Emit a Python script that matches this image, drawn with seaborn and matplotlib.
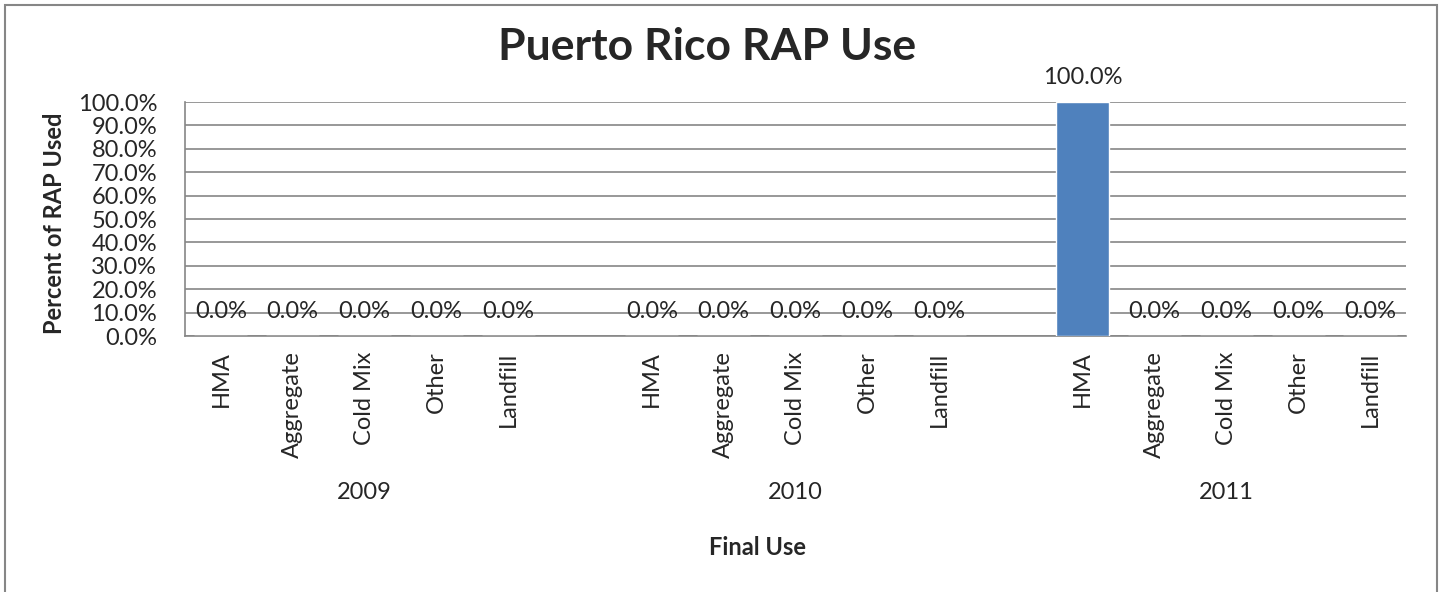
import pandas as pd
import matplotlib
matplotlib.use("Agg")
import matplotlib.pyplot as plt
import seaborn as sns
from matplotlib.patches import Rectangle
from matplotlib.ticker import FuncFormatter

# data
years = ['2009', '2010', '2011']
uses = ['HMA', 'Aggregate', 'Cold Mix', 'Other', 'Landfill']
pct_2009 = [0.0, 0.0, 0.0, 0.0, 0.0]
pct_2010 = [0.0, 0.0, 0.0, 0.0, 0.0]
pct_2011 = [100.0, 0.0, 0.0, 0.0, 0.0]

sns.set_style("white")
plt.rcParams['font.family'] = ['Lato', 'DejaVu Sans']

# long table, one row per bar
rows = []
for yr, vals in zip(years, [pct_2009, pct_2010, pct_2011]):
    for u, v in zip(uses, vals):
        rows.append({'key': yr + '|' + u, 'Year': yr, 'Use': u, 'Pct': v})
df = pd.DataFrame(rows)

# category order with one empty slot between years (like the Excel axis)
order = []
for i, yr in enumerate(years):
    order += [yr + '|' + u for u in uses]
    if i < len(years) - 1:
        order.append('gap' + str(i))

grid_c = '#868686'
bar_c = '#4F81BD'
fs = 17

fig = plt.figure(figsize=(14.42, 5.92), dpi=100)
ax = fig.add_axes([0.1283, 0.4324, 0.975 - 0.1283, 0.8277 - 0.4324])

sns.barplot(data=df, x='key', y='Pct', order=order, color=bar_c,
            width=0.74, saturation=1, ax=ax, zorder=3)

ax.set_ylim(0, 100)
ax.set_xlim(-0.5, len(order) - 0.5)
ax.set_yticks(range(0, 101, 10))
ax.yaxis.set_major_formatter(FuncFormatter(lambda v, p: f"{v:.1f}%"))
ax.grid(axis='y', color=grid_c, linewidth=1.2, zorder=0)
ax.set_axisbelow(True)
for s in ['top', 'right']:
    ax.spines[s].set_visible(False)
for s in ['left', 'bottom']:
    ax.spines[s].set_color(grid_c)
    ax.spines[s].set_linewidth(1.2)
ax.tick_params(axis='y', length=6, width=1.2, color=grid_c, labelsize=fs, pad=14)

# use labels under each bar, year labels under each group
pos = [order.index(k) for k in df['key']]
ax.set_xticks(pos)
ax.set_xticklabels(df['Use'], rotation=90, fontsize=fs, va='top', ha='center')
ax.tick_params(axis='x', length=0, pad=11)
for yr in years:
    mid = order.index(yr + '|' + uses[2])
    ax.text(mid, -0.67, yr, transform=ax.get_xaxis_transform(),
            ha='center', va='center', fontsize=fs)

ax.set_xlabel('')
ax.set_ylabel('')
ax.text(0.469, -0.905, 'Final Use', transform=ax.transAxes, ha='center',
        va='center', fontsize=fs, fontweight='bold')

for c in ax.containers:
    ax.bar_label(c, fmt='{:.1f}%', padding=10, fontsize=fs)

fig.text(0.038, 0.623, 'Percent of RAP Used', rotation=90, ha='center',
         va='center', fontsize=fs, fontweight='bold')
fig.text(0.49, 0.921, 'Puerto Rico RAP Use', ha='center', va='center',
         fontsize=32, fontweight='bold')

# chart area border
fig.patches.append(Rectangle((5 / 1442, -0.05), 1432 / 1442, 1.05 - 5 / 592,
                             transform=fig.transFigure, fill=False,
                             edgecolor=grid_c, linewidth=1.5))

fig.savefig('out.png', dpi=100)
